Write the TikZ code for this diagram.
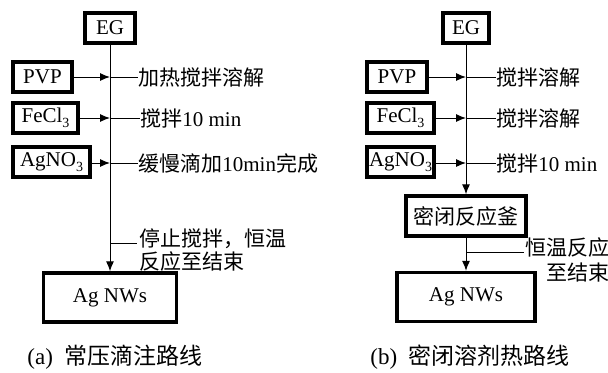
\documentclass[tikz,border=0pt]{standalone}
\usepackage{fontspec}
\setmainfont{Liberation Serif}
\newfontfamily\cjk{Noto Sans CJK SC}
\usetikzlibrary{arrows.meta}
\newcommand{\subthree}{\raisebox{-0.55ex}{\fontsize{7}{7}\selectfont 3}}
\begin{document}
\begin{tikzpicture}[x=0.5pt, y=-0.5pt, font=\fontsize{10.5}{11.5}\selectfont,
    box/.style={draw, line width=1.7pt, inner sep=0pt, minimum height=15pt},
    lbl/.style={inner sep=0pt, anchor=west},
    flow/.style={-{Latex[length=5pt,width=4pt]}, line width=0.5pt}]
    \useasboundingbox (0,0) rectangle (608,372);
    % (a) 常压滴注路线
    \node[box, minimum width=25pt] (egA) at (110,28) {EG};
    \node[box, minimum width=29.5pt] (pvpA) at (42.5,77) {PVP};
    \node[box, minimum width=32.5pt] (fecA) at (45.5,118) {FeCl\subthree};
    \node[box, minimum width=38.5pt] (agnA) at (51.5,162) {AgNO\subthree};
    \node[box, minimum width=66.5pt, minimum height=24.5pt] (nwA) at (110,297.5) {Ag NWs};
    \draw[flow] (egA) -- (nwA);
    \coordinate (jA1) at (110,77);
    \coordinate (jA2) at (110,118);
    \coordinate (jA3) at (110,163);
    \coordinate (jA4) at (110,243);
    \coordinate (eA4) at (137,243);
    \node[lbl] (tA1) at (138,77) {\cjk 加热搅拌溶解};
    \node[lbl] (tA2) at (140,118) {{\cjk 搅拌}10 min};
    \node[lbl] (tA3) at (138,163) {{\cjk 缓慢滴加}10min{\cjk 完成}};
    \node[lbl, anchor=north west, align=left, font=\fontsize{10.5}{11.5}\selectfont\cjk] (tA4) at (139,228) {停止搅拌，恒温\\反应至结束};
    \draw[flow] (pvpA.east |- jA1) -- (jA1);
    \draw[flow] (fecA.east |- jA2) -- (jA2);
    \draw[flow] (agnA.east |- jA3) -- (jA3);
    \draw (jA1) -- (tA1.west);
    \draw (jA2) -- (tA2.west);
    \draw (jA3) -- (tA3.west);
    \draw (jA4) -- (eA4);
    \node[font=\fontsize{11.5}{13}\selectfont] (capA) at (115,357) {(a)\enspace{\cjk 常压滴注路线}};
    % (b) 密闭溶剂热路线
    \node[box, minimum width=23pt] (egB) at (466,28) {EG};
    \node[box, minimum width=30pt] (pvpB) at (397,77) {PVP};
    \node[box, minimum width=33.5pt] (fecB) at (400.5,118) {FeCl\subthree};
    \node[box, minimum width=33.5pt] (agnB) at (400.5,162) {AgNO\subthree};
    \node[box, minimum width=60pt, minimum height=20pt] (kettle) at (466,216) {\cjk 密闭反应釜};
    \node[box, minimum width=69pt, minimum height=24.5pt] (nwB) at (466,297) {Ag NWs};
    \draw[flow] (egB) -- (kettle);
    \draw[flow] (kettle) -- (nwB);
    \coordinate (jB1) at (466,77);
    \coordinate (jB2) at (466,118);
    \coordinate (jB3) at (466,163);
    \coordinate (jB4) at (466,252);
    \coordinate (eB4) at (524,252);
    \node[lbl] (tB1) at (496,77) {\cjk 搅拌溶解};
    \node[lbl] (tB2) at (496,118) {\cjk 搅拌溶解};
    \node[lbl] (tB3) at (496,163) {{\cjk 搅拌}10 min};
    \node[lbl, anchor=north west, align=right, font=\fontsize{10.5}{12.5}\selectfont\cjk] (tB4) at (525,237) {恒温反应\\至结束};
    \draw[flow] (pvpB.east |- jB1) -- (jB1);
    \draw[flow] (fecB.east |- jB2) -- (jB2);
    \draw[flow] (agnB.east |- jB3) -- (jB3);
    \draw (jB1) -- (tB1.west);
    \draw (jB2) -- (tB2.west);
    \draw (jB3) -- (tB3.west);
    \draw (jB4) -- (eB4);
    \node[font=\fontsize{11.5}{13}\selectfont] (capB) at (470,357) {(b)\enspace{\cjk 密闭溶剂热路线}};
\end{tikzpicture}
\end{document}
